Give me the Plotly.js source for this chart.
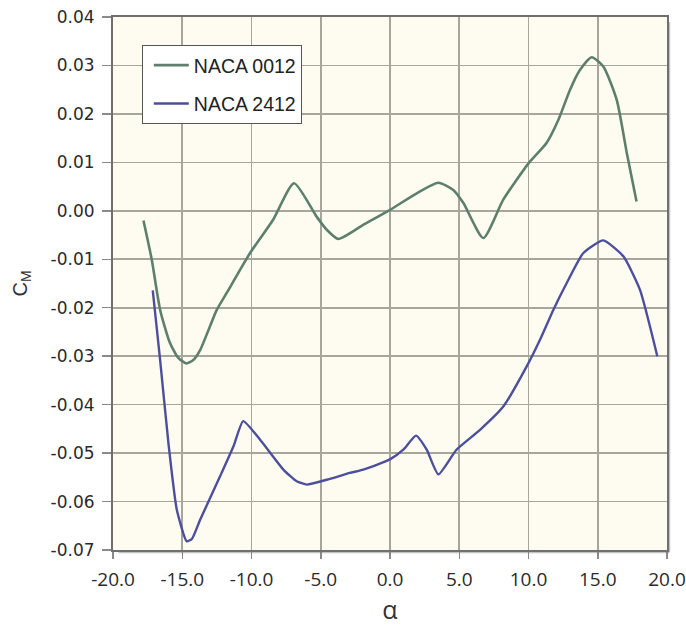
<!DOCTYPE html>
<html>
<head>
<meta charset="utf-8">
<script src="https://cdn.plot.ly/plotly-3.0.1.min.js"></script>
<style>
  html, body { margin: 0; padding: 0; background: #ffffff; }
  #chart { width: 686px; height: 626px; }
</style>
</head>
<body>
<div id="chart"></div>
<script>
// NACA 0012 moment coefficient vs angle of attack
const alpha0012 = [-17.8, -17.2, -16.6, -15.9, -15.3, -14.7, -14.2, -13.7, -12.5, -11.8, -10.1, -8.45, -6.93,
  -5.3, -4.57, -3.73, -1.93, 0.0, 1.93, 3.49, 4.57, 5.3, 6.74, 8.18, 10.0, 11.3, 12.16, 13.0, 13.7, 14.56,
  15.4, 16.37, 17.1, 17.8];
const cm0012 = [-0.0020, -0.0101, -0.0204, -0.0272, -0.0303, -0.0315, -0.0308, -0.0287, -0.0204, -0.0170, -0.0087, -0.0019, 0.0057,
  -0.0012, -0.0039, -0.0058, -0.0029, 0.0002, 0.0036, 0.0058, 0.0043, 0.0016, -0.0056, 0.0023, 0.0098, 0.0140, 0.0188, 0.0250, 0.0290, 0.0317,
  0.0298, 0.0229, 0.0119, 0.0019];

// NACA 2412 moment coefficient vs angle of attack
const alpha2412 = [-17.13, -16.6, -16.0, -15.4, -14.68, -14.3, -13.7, -12.27, -11.3, -10.6, -9.39, -7.7, -6.74, -6.0,
  -4.57, -2.9, -1.93, 0.0, 0.96, 1.88, 2.65, 3.49, 4.8, 6.5, 8.18, 9.87, 10.83, 11.8, 12.76, 13.96, 15.4,
  16.85, 18.05, 19.3];
const cm2412 = [-0.0164, -0.0307, -0.0479, -0.0616, -0.0682, -0.0677, -0.0637, -0.0548, -0.0486, -0.0434, -0.0472, -0.0534, -0.0558, -0.0565,
  -0.0555, -0.0541, -0.0534, -0.0513, -0.0493, -0.0464, -0.0493, -0.0544, -0.0493, -0.0452, -0.0404, -0.0321, -0.0266, -0.0204, -0.0149, -0.0087, -0.0061,
  -0.0094, -0.0163, -0.0300];

const seriesNames = ['NACA 0012', 'NACA 2412'];

const xTickVals = [-20, -15, -10, -5, 0, 5, 10, 15, 20];
const xTickLabels = ['-20.0', '-15.0', '-10.0', '-5.0', '0.0', '5.0', '10.0', '15.0', '20.0'];
const yTickVals = [0.04, 0.03, 0.02, 0.01, 0.0, -0.01, -0.02, -0.03, -0.04, -0.05, -0.06, -0.07];
const yTickLabels = ['0.04', '0.03', '0.02', '0.01', '0.00', '-0.01', '-0.02', '-0.03', '-0.04', '-0.05', '-0.06', '-0.07'];

const traces = [
  {
    x: alpha0012, y: cm0012, name: seriesNames[0], type: 'scatter', mode: 'lines',
    legendgroup: 'a',
    line: { color: '#5e7f6d', width: 2.6, shape: 'spline', smoothing: 0.6 }
  },
  {
    x: alpha2412, y: cm2412, name: seriesNames[1], type: 'scatter', mode: 'lines',
    legendgroup: 'b',
    line: { color: '#4c4f9c', width: 2.4, shape: 'spline', smoothing: 0.5 }
  }
];

const layout = {
  width: 686, height: 626,
  margin: { l: 113, r: 19, t: 17, b: 75.5 },
  paper_bgcolor: '#ffffff',
  plot_bgcolor: '#fefcf1',
  showlegend: true,
  legend: {
    x: 0.052, y: 0.9475, xanchor: 'left', yanchor: 'top',
    bgcolor: '#ffffff', bordercolor: '#555555', borderwidth: 1,
    font: { family: 'Liberation Sans, Arial, sans-serif', size: 19.5, color: '#222222' },
    traceorder: 'grouped', tracegroupgap: 10,
    itemwidth: 35, indentation: 6
  },
  xaxis: {
    range: [-20, 20],
    tickmode: 'array', tickvals: xTickVals, ticktext: xTickLabels,
    ticks: 'outside', ticklen: 7, tickwidth: 1.5, tickcolor: '#8a8a8a',
    ticklabelstandoff: 4,
    tickfont: { family: 'Open Sans, sans-serif', size: 19, color: '#2a2a2a' },
    showgrid: true, gridcolor: '#a8a59d', gridwidth: 1.6,
    showline: true, linecolor: '#6f6f6f', linewidth: 2, mirror: true,
    zeroline: false, fixedrange: true,
    title: { text: 'α', font: { family: 'Open Sans, sans-serif', size: 25, color: '#333333' }, standoff: 30 }
  },
  yaxis: {
    range: [-0.07, 0.04],
    tickmode: 'array', tickvals: yTickVals, ticktext: yTickLabels,
    ticks: 'outside', ticklen: 9, tickwidth: 1.5, tickcolor: '#8a8a8a',
    ticklabelstandoff: 4,
    tickfont: { family: 'DejaVu Sans, sans-serif', size: 17, color: '#2a2a2a' },
    showgrid: true, gridcolor: '#a8a59d', gridwidth: 1.6,
    showline: true, linecolor: '#6f6f6f', linewidth: 2, mirror: true,
    zeroline: false, fixedrange: true,
    title: { text: 'C<sub>M</sub>', font: { family: 'Liberation Sans, Arial, sans-serif', size: 20, color: '#333333' }, standoff: 18 }
  },
  shapes: [
    { type: 'line', xref: 'paper', yref: 'paper', x0: 1.004, x1: 1.004, y0: -0.004, y1: 0.99,
      line: { color: 'rgba(120,120,120,0.45)', width: 2 } },
    { type: 'line', xref: 'paper', yref: 'paper', x0: 0.01, x1: 1.004, y0: -0.004, y1: -0.004,
      line: { color: 'rgba(120,120,120,0.45)', width: 2 } }
  ]
};

Plotly.newPlot('chart', traces, layout, { displayModeBar: false, staticPlot: true });
</script>
</body>
</html>
